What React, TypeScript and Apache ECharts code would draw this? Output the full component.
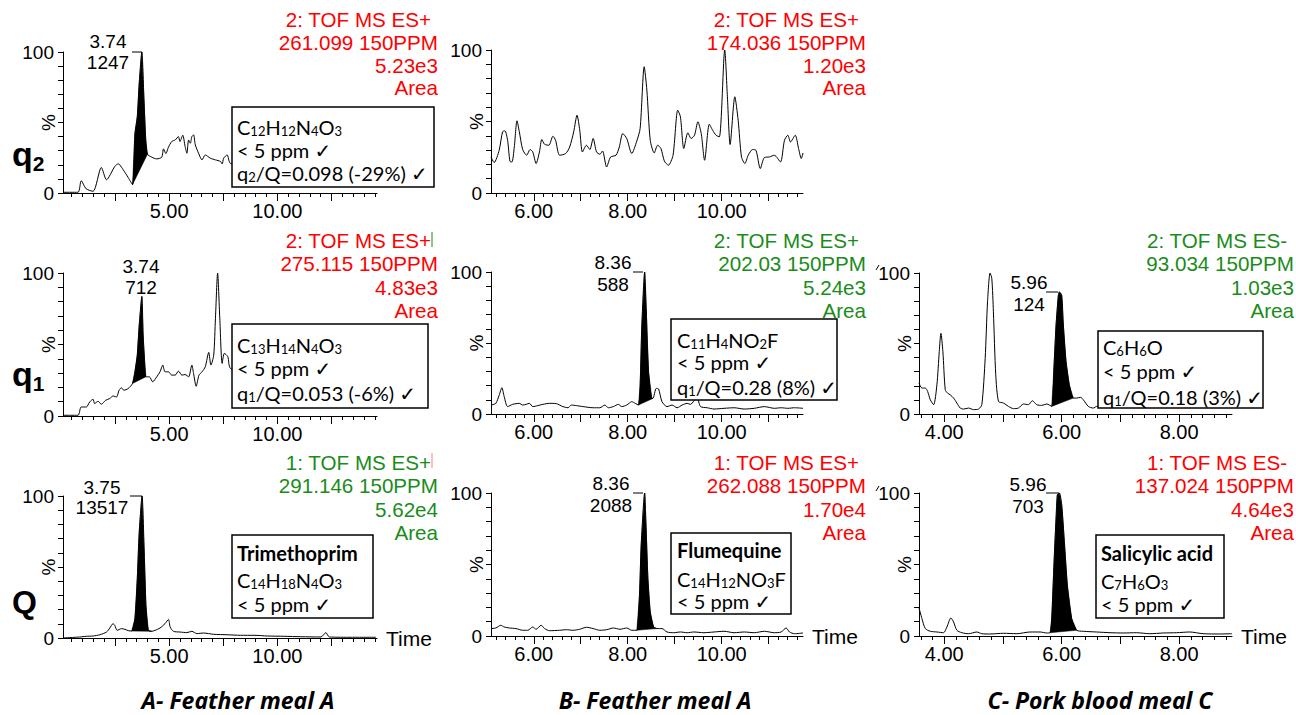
import React, { useEffect, useRef } from "react";
import * as echarts from "echarts";

type Pt = [number, number];

// ---------- chromatogram traces: [retention time (min), relative intensity (%)] ----------
const traceA_q2: Pt[] = [
  [0.1, 0.5], [0.79, 0.5], [0.94, 8.7], [1.17, 3], [1.49, 1.2], [1.87, 18.1], [2.11, 9.4], [2.49, 18.8],
  [2.65, 20.7], [2.72, 20], [2.88, 16.5], [3.11, 11], [3.31, 5.9], [3.42, 42], [3.53, 54], [3.62, 78],
  [3.74, 100], [3.84, 66], [3.92, 38], [4.0, 27.5], [4.2, 25.4], [4.43, 24.2], [4.66, 25.4], [4.74, 31.3],
  [4.85, 28], [4.97, 32.5], [5.12, 36.5], [5.28, 37.6], [5.43, 40], [5.5, 36.5], [5.63, 41], [5.74, 32.9],
  [5.82, 28.2], [5.9, 37.6], [5.98, 35.3], [6.05, 40], [6.13, 41.2], [6.21, 34.1], [6.36, 28.2], [6.52, 23.5],
  [6.67, 27], [6.9, 24.7], [7.14, 23.5], [7.37, 22.4], [7.45, 20.7], [7.52, 24.7], [7.68, 27], [7.83, 21],
  [8.5, 20], [9.5, 18], [10.5, 19], [11.5, 17], [12.5, 16], [13.5, 15], [14.5, 15],
];
const traceB_q2: Pt[] = [
  [5.09, 25.2], [5.157, 21.3], [5.264, 29.9], [5.336, 42.8], [5.386, 43.5], [5.443, 36.9], [5.493, 22.2],
  [5.536, 21.7], [5.586, 32.2], [5.643, 50.5], [5.693, 42.8], [5.764, 30.4], [5.85, 26.4], [5.921, 30.4],
  [5.979, 28.7], [6.05, 20.6], [6.121, 28.7], [6.171, 37.4], [6.229, 34.1], [6.321, 33.4], [6.407, 39.7],
  [6.464, 36.9], [6.55, 26.4], [6.679, 27.6], [6.764, 32.2], [6.85, 42.8], [6.921, 54.4], [6.979, 43.9],
  [7.036, 28.7], [7.121, 33.4], [7.193, 30.4], [7.264, 38.1], [7.336, 28.7], [7.407, 27.1], [7.464, 29.4],
  [7.55, 18.2], [7.636, 25.2], [7.75, 26.4], [7.821, 32.2], [7.893, 41.6], [7.979, 38.1], [8.086, 27.6],
  [8.193, 36.4], [8.264, 45.1], [8.35, 88.3], [8.407, 72], [8.479, 36.9], [8.564, 28], [8.636, 33.4],
  [8.707, 31.1], [8.779, 22.4], [8.864, 19.4], [8.964, 26.4], [9.064, 57.9], [9.121, 53.3], [9.193, 31.1],
  [9.279, 42.1], [9.35, 38.1], [9.421, 40.4], [9.493, 49.8], [9.564, 41.6], [9.636, 22.9], [9.736, 48.1],
  [9.807, 43.9], [9.879, 40.4], [9.95, 39.3], [10.064, 100], [10.121, 67.3], [10.179, 33.9], [10.279, 67.3],
  [10.35, 50.9], [10.421, 25.2], [10.493, 20.6], [10.564, 26.4], [10.657, 30.4], [10.729, 29.9],
  [10.821, 17.1], [10.907, 24.8], [11.014, 25.2], [11.121, 26.4], [11.25, 21.7], [11.336, 36.9],
  [11.407, 40.4], [11.464, 35.7], [11.564, 40.4], [11.636, 31.1], [11.693, 24.1], [11.73, 28],
];
const traceA_q1: Pt[] = [
  [0.1, 0.5], [0.79, 0.5], [0.94, 6.3], [1.18, 6.3], [1.33, 9.8], [1.49, 11.7], [1.56, 8.7], [1.72, 10.3],
  [1.87, 8.2], [2.07, 11], [2.26, 12.2], [2.41, 14], [2.57, 13.3], [2.69, 18], [2.8, 19.7], [2.91, 18],
  [3.11, 19.2], [3.31, 22.7], [3.42, 30.9], [3.53, 42.6], [3.62, 63.7], [3.74, 83.6], [3.8, 56.7],
  [3.86, 40.3], [3.93, 27.4], [4.09, 27.4], [4.24, 23.9], [4.43, 27.4], [4.58, 30.9], [4.71, 35.6],
  [4.81, 30.9], [4.97, 30.9], [5.12, 28.6], [5.28, 28.6], [5.43, 31.4], [5.59, 28.6], [5.74, 29],
  [5.9, 27.4], [6.05, 35.6], [6.13, 29.7], [6.25, 20.8], [6.38, 28.6], [6.52, 30.9], [6.67, 34.4],
  [6.83, 44.5], [6.93, 35.6], [7.06, 42.6], [7.14, 68.4], [7.24, 100], [7.34, 68.4], [7.45, 36.8],
  [7.55, 43.8], [7.71, 41.5], [7.83, 33.3], [8.5, 30], [9.5, 28], [10.5, 27], [11.5, 26], [12.5, 25],
  [13.5, 25], [14.5, 24],
];
const traceB_q1: Pt[] = [
  [5.09, 6.3], [5.193, 7.5], [5.264, 13.3], [5.321, 18.5], [5.371, 12.2], [5.443, 5.2], [5.55, 6.8],
  [5.693, 7.5], [5.764, 6.3], [5.836, 6.8], [5.907, 7.5], [5.979, 5.2], [6.086, 5.9], [6.193, 6.8],
  [6.336, 7.5], [6.479, 7.3], [6.621, 5.2], [6.729, 4.4], [6.8, 6.3], [6.907, 5.9], [7.05, 5.2],
  [7.264, 4.4], [7.407, 4.4], [7.514, 6.3], [7.586, 4.4], [7.693, 5.2], [7.8, 6.8], [7.871, 5.2],
  [7.979, 6.3], [8.086, 8.7], [8.157, 7.5], [8.229, 6.3], [8.264, 20.4], [8.3, 62.5], [8.36, 100],
  [8.393, 74.2], [8.443, 29.7], [8.514, 11], [8.536, 11], [8.607, 18], [8.657, 17.6], [8.729, 8.7],
  [8.836, 5.2], [8.943, 6.3], [9.05, 4.4], [9.157, 6.3], [9.264, 7.5], [9.336, 6.8], [9.407, 9.1],
  [9.479, 11], [9.55, 5.2], [9.693, 4.4], [9.836, 3.5], [10.05, 4], [10.264, 4.4], [10.479, 3.5],
  [10.693, 4], [10.907, 5.2], [11.121, 4], [11.264, 4.4], [11.407, 4], [11.55, 4.4], [11.73, 4],
];
const traceC_q1: Pt[] = [
  [3.57, 21.9], [3.62, 18.4], [3.677, 18.4], [3.717, 16], [3.762, 10.1], [3.819, 6.6], [3.875, 20.7],
  [3.915, 44.2], [3.943, 57.2], [3.977, 44.2], [4.017, 17.2], [4.057, 14.8], [4.102, 13.6], [4.159, 11.3],
  [4.215, 7.8], [4.272, 4.2], [4.329, 3.5], [4.414, 4.2], [4.499, 3.1], [4.584, 3.5], [4.64, 6.6],
  [4.697, 39.5], [4.737, 79.5], [4.78, 100], [4.81, 96], [4.837, 72.5], [4.877, 27.8], [4.924, 8.9],
  [5.008, 7.8], [5.093, 5.4], [5.178, 3.8], [5.263, 4.2], [5.348, 7.1], [5.433, 6.6], [5.501, 9.4],
  [5.575, 6.6], [5.66, 6.1], [5.745, 7.1], [5.83, 5.4], [5.87, 34.8], [5.904, 63.1], [5.943, 84.2],
  [5.96, 86.6], [6.0, 84.2], [6.028, 63.1], [6.074, 37.2], [6.13, 20.7], [6.198, 11.3], [6.255, 11.3],
  [6.323, 11.8], [6.368, 10.1], [6.453, 5.4], [6.538, 4.2], [6.595, 5.4], [6.822, 6], [7.275, 6.5],
  [7.841, 6], [8.408, 6.5], [8.9, 6],
];
const traceA_Q: Pt[] = [
  [0.1, 0], [0.87, 0.7], [1.18, 1.2], [1.49, 1.4], [1.8, 2.3], [2.11, 4.2], [2.26, 7], [2.41, 10.1],
  [2.49, 8.9], [2.6, 5.4], [2.8, 6.6], [2.96, 6.1], [3.11, 5.2], [3.27, 4.9], [3.42, 13.6], [3.53, 41.8],
  [3.62, 74.6], [3.75, 100], [3.85, 60.6], [3.93, 23], [4.04, 5.4], [4.2, 4.7], [4.35, 5.4], [4.58, 7],
  [4.81, 10.1], [4.97, 13.1], [5.05, 7.7], [5.2, 4.7], [5.51, 4.2], [5.82, 3.8], [6.05, 4.7], [6.28, 3.1],
  [6.59, 3.5], [7.06, 2.6], [7.68, 2.3], [8.3, 1.9], [8.92, 1.9], [9.54, 1.4], [10.31, 1.2], [11.08, 0.9],
  [12.01, 0.7], [12.24, 3.8], [12.4, 0.7], [13.41, 0.5], [14.55, 0.5],
];
const traceB_Q: Pt[] = [
  [5.09, 5.2], [5.193, 5.6], [5.3, 7.5], [5.371, 6.3], [5.479, 5.6], [5.621, 5.2], [5.764, 4], [5.871, 4],
  [5.979, 6.3], [6.05, 4.7], [6.157, 7.5], [6.229, 5.2], [6.336, 3.7], [6.55, 4], [6.693, 4.4], [6.836, 4],
  [6.979, 4.7], [7.121, 6.1], [7.264, 5.2], [7.407, 4], [7.55, 4.4], [7.693, 5.6], [7.836, 4.7],
  [7.979, 5.6], [8.086, 4], [8.193, 4], [8.25, 28.6], [8.286, 63.7], [8.36, 100], [8.386, 80.1],
  [8.429, 40.3], [8.479, 16.9], [8.55, 6.3], [8.621, 5.2], [8.729, 5.2], [8.836, 2.8], [8.979, 2.3],
  [9.121, 2.8], [9.264, 2.3], [9.407, 2.8], [9.621, 2.3], [9.836, 2.8], [10.05, 3.3], [10.264, 2.3],
  [10.479, 2.8], [10.693, 2.3], [10.907, 3.3], [11.121, 2.3], [11.264, 2.8], [11.371, 5.6], [11.443, 2.8],
  [11.55, 1.6], [11.73, 2.1],
];
const traceC_Q: Pt[] = [
  [3.57, 19.7], [3.62, 12.2], [3.677, 5.2], [3.762, 3.3], [3.875, 2.8], [3.989, 2.3], [4.045, 6.3],
  [4.113, 12.6], [4.159, 9.8], [4.215, 4], [4.3, 2.3], [4.414, 1.6], [4.555, 2.8], [4.64, 1.6],
  [4.782, 1.4], [5.008, 1.9], [5.235, 1.6], [5.462, 2.8], [5.632, 2.8], [5.745, 2.1], [5.802, 2.3],
  [5.83, 12.2], [5.87, 52], [5.904, 82.4], [5.926, 98.8], [5.96, 100], [6.0, 91.8], [6.045, 66],
  [6.096, 35.6], [6.17, 12.2], [6.255, 4], [6.368, 3.3], [6.595, 2.8], [6.822, 2.3], [7.048, 2.1],
  [7.275, 2.3], [7.501, 1.6], [7.728, 2.1], [7.955, 2.3], [8.181, 2.8], [8.408, 1.6], [8.691, 1.4],
  [8.9, 1.6],
];

// integrated peak windows [start, end] (min)
const peakA_q2: Pt = [3.31, 4.0];
const peakA_q1: Pt = [3.31, 3.93];
const peakB_q1: Pt = [8.229, 8.536];
const peakC_q1: Pt = [5.83, 6.198];
const peakA_Q: Pt = [3.27, 4.2];
const peakB_Q: Pt = [8.193, 8.621];
const peakC_Q: Pt = [5.802, 6.255];

// axis ranges and tick values
const rangeA: Pt = [0.1, 14.6];
const rangeB: Pt = [5.09, 11.73];
const rangeC: Pt = [3.57, 8.9];
const majorTicksA = [2.5, 5, 7.5, 10, 12.5];
const majorTicksB = [6, 7, 8, 9, 10, 11];
const majorTicksC = [4, 5, 6, 7, 8];
const labelsA = [5, 10];
const labelsB = [6, 8, 10];
const labelsC = [4, 6, 8];

// header annotations
const headA_q2 = ["2: TOF MS ES+", "261.099 150PPM", "5.23e3", "Area"];
const headB_q2 = ["2: TOF MS ES+", "174.036 150PPM", "1.20e3", "Area"];
const headA_q1 = ["2: TOF MS ES+", "275.115 150PPM", "4.83e3", "Area"];
const headB_q1 = ["2: TOF MS ES+", "202.03 150PPM", "5.24e3", "Area"];
const headC_q1 = ["2: TOF MS ES-", "93.034 150PPM", "1.03e3", "Area"];
const headA_Q = ["1: TOF MS ES+", "291.146 150PPM", "5.62e4", "Area"];
const headB_Q = ["1: TOF MS ES+", "262.088 150PPM", "1.70e4", "Area"];
const headC_Q = ["1: TOF MS ES-", "137.024 150PPM", "4.64e3", "Area"];

// peak apex labels [time, height]
const apexA_q2 = ["3.74", "1247"];
const apexA_q1 = ["3.74", "712"];
const apexB_q1 = ["8.36", "588"];
const apexC_q1 = ["5.96", "124"];
const apexA_Q = ["3.75", "13517"];
const apexB_Q = ["8.36", "2088"];
const apexC_Q = ["5.96", "703"];

const FA = "'Liberation Sans', Arial, sans-serif";
const FC = "Lato, 'DejaVu Sans', sans-serif";
const FO = "'Open Sans', Lato, sans-serif";
const RED = "#ff0000";
const GREEN = "#1a8c1a";

function steps(a: number, b: number, s: number): number[] {
  const out: number[] = [];
  for (let v = a; v <= b + 1e-9; v += s) out.push(Math.round(v * 100) / 100);
  return out;
}
const minorTicksA = steps(0.5, 14.5, 0.5);
const minorTicksB = steps(5.2, 11.6, 0.2);
const minorTicksC = steps(3.6, 8.8, 0.2);

const cols: Record<string, any> = {
  A: { range: rangeA, major: majorTicksA, minor: minorTicksA, labels: labelsA },
  B: { range: rangeB, major: majorTicksB, minor: minorTicksB, labels: labelsB },
  C: { range: rangeC, major: majorTicksC, minor: minorTicksC, labels: labelsC },
};

const panels = [
  { col: "A", box: { left: 63, top: 52, width: 314, height: 141 }, trace: traceA_q2, peak: peakA_q2, time: false },
  { col: "B", box: { left: 491, top: 50, width: 312, height: 143 }, trace: traceB_q2, peak: null, time: false },
  { col: "A", box: { left: 63, top: 273, width: 314, height: 143 }, trace: traceA_q1, peak: peakA_q1, time: false },
  { col: "B", box: { left: 491, top: 272, width: 312, height: 142 }, trace: traceB_q1, peak: peakB_q1, time: false },
  { col: "C", box: { left: 919, top: 273, width: 313, height: 141 }, trace: traceC_q1, peak: peakC_q1, time: false },
  { col: "A", box: { left: 63, top: 496, width: 314, height: 142 }, trace: traceA_Q, peak: peakA_Q, time: true },
  { col: "B", box: { left: 491, top: 493, width: 312, height: 143 }, trace: traceB_Q, peak: peakB_Q, time: true },
  { col: "C", box: { left: 919, top: 493, width: 313, height: 143 }, trace: traceC_Q, peak: peakC_Q, time: true },
];

function text(x: number, y: number, t: string, font: string, fill = "#000", align = "left", rich?: any, rotation = 0): any {
  return {
    type: "text", x, y, z: 100, silent: true, rotation,
    style: {
      text: t, fill, font, align, verticalAlign: "middle",
      textAlign: align, textVerticalAlign: "middle", rich,
    },
  };
}
function hline(x1: number, y1: number, x2: number, y2: number, stroke = "#000", w = 1): any {
  return { type: "line", z: 100, silent: true, shape: { x1, y1, x2, y2 }, style: { stroke, lineWidth: w } };
}
function rect(x: number, y: number, width: number, height: number): any {
  return { type: "rect", z: 99, silent: true, shape: { x, y, width, height }, style: { fill: "#fff", stroke: "#000", lineWidth: 1.5 } };
}

const richBox = {
  n: { fontSize: 20, fontFamily: FC, lineHeight: 20, fill: "#000" },
  s: { fontSize: 13, fontFamily: FC, lineHeight: 7, verticalAlign: "bottom", fill: "#000" },
  b: { fontSize: 20, fontFamily: FC, fontWeight: "bold", lineHeight: 20, fill: "#000" },
};
function formula(f: string): string {
  return f.replace(/([A-Za-z]+)|(\d+)/g, (_m, a, d) => (a ? `{n|${a}}` : `{s|${d}}`));
}
function boxText(x: number, y: number, s: string): any {
  return text(x, y, s, `20px ${FC}`, "#000", "left", richBox);
}

function header(right: number, ys: number[], lines: string[], color: string): any[] {
  return lines.map((l, i) => text(i === 0 ? right - 7 : right, ys[i], l, `20.6px ${FA}`, color, "right"));
}
function apex(cx: number, y1: number, y2: number, vals: string[]): any[] {
  return [text(cx, y1, vals[0], `19px ${FA}`, "#000", "center"), text(cx, y2, vals[1], `19px ${FA}`, "#000", "center")];
}
function pct(x: number, box: any): any {
  return text(x, box.top + box.height / 2, "%", `19px ${FA}`, "#000", "center", undefined, Math.PI / 2);
}

function buildOption(): any {
  const grid: any[] = [];
  const xAxis: any[] = [];
  const yAxis: any[] = [];
  const series: any[] = [];
  const pctLabels: any[] = [];
  panels.forEach((p, i) => {
    const c = cols[p.col];
    grid.push({ ...p.box, containLabel: false });
    pctLabels.push(pct(p.box.left - 15, p.box));
    xAxis.push({
      type: "value", gridIndex: i, position: "bottom", min: c.range[0], max: c.range[1],
      axisLine: { show: true, onZero: false, lineStyle: { color: "#000", width: 1 } },
      axisTick: { show: true, customValues: c.major, length: 8, lineStyle: { color: "#000", width: 1 } },
      axisLabel: { customValues: c.labels, formatter: (v: number) => v.toFixed(2), fontSize: 20, color: "#000", fontFamily: FA, margin: 8 },
      splitLine: { show: false },
      name: p.time ? "Time" : "", nameLocation: "end", nameGap: 9,
      nameTextStyle: { fontSize: 21, color: "#000", fontFamily: FA },
    });
    xAxis.push({
      type: "value", gridIndex: i, position: "bottom", min: c.range[0], max: c.range[1],
      axisLine: { show: false, onZero: false },
      axisTick: { show: true, customValues: c.minor, length: 4, lineStyle: { color: "#000", width: 1 } },
      axisLabel: { show: false },
      splitLine: { show: false },
    });
    yAxis.push({
      type: "value", gridIndex: i, min: 0, max: 100, interval: 10,
      axisLine: { show: true, onZero: false, lineStyle: { color: "#000", width: 1 } },
      axisTick: { show: true, length: 5, lineStyle: { color: "#000", width: 1 } },
      axisLabel: { formatter: (v: number) => (v === 0 || v === 100 ? String(v) : ""), fontSize: 19, color: "#000", fontFamily: FA, margin: 9 },
      splitLine: { show: false },
    });
    series.push({
      type: "line", xAxisIndex: 2 * i, yAxisIndex: i, data: p.trace, symbol: "none", showSymbol: false,
      smooth: 0.25, lineStyle: { color: "#000", width: 1 }, z: 3, silent: true,
    });
    if (p.peak) {
      const pk = p.peak;
      const pts = p.trace.filter(([x]) => x >= pk[0] - 1e-9 && x <= pk[1] + 1e-9);
      series.push({
        type: "custom", xAxisIndex: 2 * i, yAxisIndex: i, data: pts, z: 2, silent: true,
        renderItem: (params: any, api: any) => {
          if (params.dataIndex !== 0) return null;
          const poly = pts.map((q) => api.coord(q));
          return { type: "polygon", shape: { points: poly, smooth: 0 }, style: { fill: "#000", stroke: "#000", lineWidth: 0.5 } };
        },
      });
    }
  });

  const row1 = [19, 42, 65, 87];
  const row2 = [240, 263, 287, 310];
  const row3 = [462, 485, 509, 532];
  const qRich = {
    q: { fontSize: 34, fontWeight: "bold", fontFamily: FA, lineHeight: 40, fill: "#000" },
    t: { fontSize: 21, fontWeight: "bold", fontFamily: FA, lineHeight: 13, verticalAlign: "bottom", fill: "#000" },
  };
  const g: any[] = [
    ...pctLabels,
    ...header(438, row1, headA_q2, RED),
    ...header(866, row1, headB_q2, RED),
    ...header(438, row2, headA_q1, RED),
    ...header(866, row2, headB_q1, GREEN),
    ...header(1294, row2, headC_q1, GREEN),
    ...header(438, row3, headA_Q, GREEN),
    ...header(866, row3, headB_Q, RED),
    ...header(1294, row3, headC_Q, RED),
    hline(432, 232, 432, 247, GREEN, 1),
    hline(432, 453, 432, 468, "#ff8080", 1),
    hline(876, 270, 879, 265, "#000", 1),
    hline(876, 491, 879, 486, "#000", 1),
    // apex labels
    ...apex(108, 41, 62, apexA_q2), hline(132, 52, 142, 52),
    ...apex(141, 266, 287, apexA_q1),
    ...apex(613, 262, 284, apexB_q1), hline(633, 272, 643, 272),
    ...apex(1029, 282, 304, apexC_q1), hline(1046, 292, 1058, 292),
    ...apex(102, 487, 507, apexA_Q), hline(130, 496, 142, 496),
    ...apex(611, 483, 505, apexB_Q), hline(633, 493, 643, 493),
    ...apex(1028, 484, 506, apexC_Q), hline(1046, 493, 1059, 493),
    // boxes
    rect(232, 107, 202, 80),
    boxText(237, 127, formula("C12H12N4O3")),
    boxText(237, 150, "{n|< 5 ppm ✓}"),
    boxText(237, 173, "{n|q}{s|2}{n|/Q=0.098 (-29%) ✓}"),
    rect(232, 324, 196, 84),
    boxText(237, 345, formula("C13H14N4O3")),
    boxText(237, 368, "{n|< 5 ppm ✓}"),
    boxText(237, 393, "{n|q}{s|1}{n|/Q=0.053 (-6%) ✓}"),
    rect(671, 319, 166, 81),
    boxText(677, 340, formula("C11H4NO2F")),
    boxText(677, 362, "{n|< 5 ppm ✓}"),
    boxText(677, 387, "{n|q}{s|1}{n|/Q=0.28 (8%) ✓}"),
    rect(1098, 331, 165, 77),
    boxText(1103, 347, formula("C6H6O")),
    boxText(1103, 371, "{n|< 5 ppm ✓}"),
    boxText(1103, 397, "{n|q}{s|1}{n|/Q=0.18 (3%) ✓}"),
    rect(232, 535, 141, 83),
    boxText(237, 553, "{b|Trimethoprim}"),
    boxText(237, 580, formula("C14H18N4O3")),
    boxText(237, 604, "{n|< 5 ppm ✓}"),
    rect(671, 533, 120, 81),
    boxText(677, 550, "{b|Flumequine}"),
    boxText(677, 579, formula("C14H12NO3F")),
    boxText(677, 601, "{n|< 5 ppm ✓}"),
    rect(1096, 535, 128, 83),
    boxText(1101, 553, "{b|Salicylic acid}"),
    boxText(1101, 581, formula("C7H6O3")),
    boxText(1101, 604, "{n|< 5 ppm ✓}"),
    // row labels
    text(12, 154, "{q|q}{t|2}", `bold 34px ${FA}`, "#000", "left", qRich),
    text(12, 374, "{q|q}{t|1}", `bold 34px ${FA}`, "#000", "left", qRich),
    text(12, 602, "Q", `bold 32px ${FA}`, "#000", "left"),
    // bottom captions
    text(238, 700, "A- Feather meal A", `italic bold 23px ${FO}`, "#000", "center"),
    text(655, 700, "B- Feather meal A", `italic bold 23px ${FO}`, "#000", "center"),
    text(1100, 700, "C- Pork blood meal C", `italic bold 23px ${FO}`, "#000", "center"),
  ];

  return { animation: false, backgroundColor: "#fff", grid, xAxis, yAxis, series, graphic: { elements: g } };
}

export default function App() {
  const ref = useRef<HTMLDivElement>(null);
  useEffect(() => {
    const chart = echarts.init(ref.current as HTMLDivElement, undefined, { renderer: "svg" });
    chart.setOption(buildOption());
    return () => chart.dispose();
  }, []);
  return (
    <div
      ref={ref}
      style={{ position: "fixed", left: 0, top: 0, width: 1296, height: 715, background: "#fff" }}
    />
  );
}
